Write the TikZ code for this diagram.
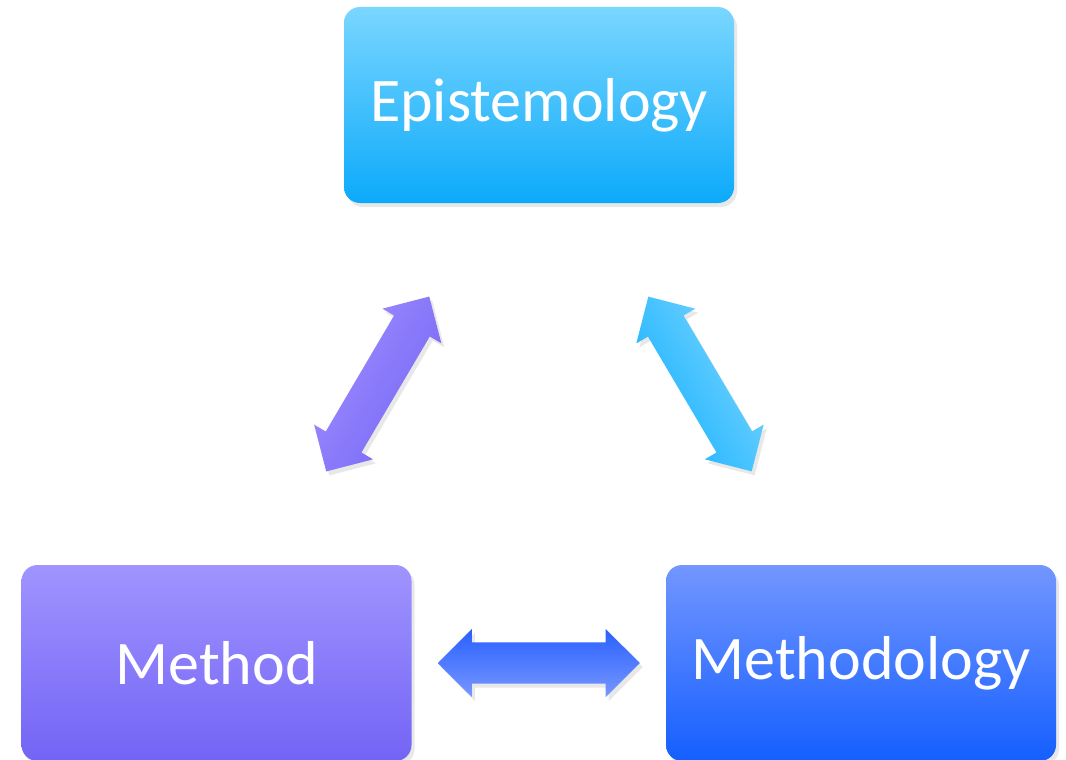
\documentclass[tikz,border=0pt]{standalone}
\usepackage{fontspec}
\setmainfont{Carlito}
\usetikzlibrary{calc, shapes.arrows, shadows}
\definecolor{epiTop}{RGB}{122,214,255}
\definecolor{epiBot}{RGB}{12,170,250}
\definecolor{methTop}{RGB}{160,148,255}
\definecolor{methBot}{RGB}{115,100,245}
\definecolor{mdlTop}{RGB}{115,150,255}
\definecolor{mdlBot}{RGB}{20,95,255}
\definecolor{purpLight}{RGB}{158,142,255}
\definecolor{purpDark}{RGB}{118,102,246}
\definecolor{cyanLight}{RGB}{122,214,255}
\definecolor{cyanDark}{RGB}{22,176,255}
\definecolor{blueDark}{RGB}{40,95,255}
\definecolor{blueLight}{RGB}{120,152,255}

\begin{document}
\begin{tikzpicture}[x=1pt, y=-1pt]
%1 unit = 1 px of the original slide picture, y runs downwards
    \tikzstyle{box}=[rectangle, rounded corners=16pt, minimum width=390pt, minimum height=196pt, inner sep=0pt,
        text=white, font=\fontsize{62}{70}\selectfont,
        drop shadow={opacity=0.18, shadow xshift=3pt, shadow yshift=-4pt}]
    \tikzstyle{darrow}=[double arrow, double arrow head extend=13.5pt, double arrow tip angle=90,
        minimum height=203pt, inner xsep=0pt, inner ysep=20.5pt,
        drop shadow={opacity=0.18, shadow xshift=3pt, shadow yshift=-4pt}]

    \useasboundingbox (0,0) rectangle (1066,760);

    \node[box, top color=epiTop, bottom color=epiBot] (E) at (539,105) {Epistemology};
    \node[box, top color=methTop, bottom color=methBot] (M) at (216.5,663) {Method};
    \node[box, top color=mdlTop, bottom color=mdlBot] (D) at (861,663) {Methodology};

    % the three two-way arrows sit half way between the facing corners
    \node[darrow, top color=purpLight, bottom color=purpDark, shading angle=59.5, rotate=59.5]
        (EM) at ($(E.south west)!0.5!(M.north east)$) {};
    \node[darrow, top color=cyanLight, bottom color=cyanDark, shading angle=-59.4, rotate=-59.4]
        (ED) at ($(E.south east)!0.5!(D.north west)$) {};
    \node[darrow, top color=blueDark, bottom color=blueLight, minimum height=202pt]
        (MD) at ($(M.east)!0.5!(D.west)$) {};
\end{tikzpicture}
\end{document}
